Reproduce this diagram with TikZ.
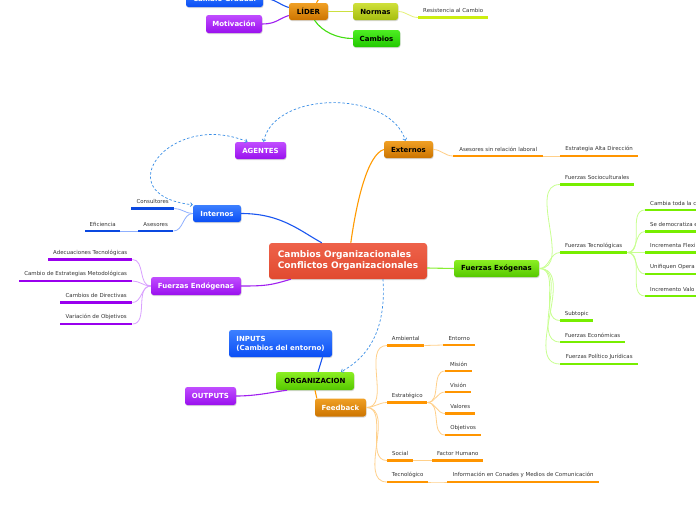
\documentclass[tikz,border=0pt]{standalone}
\usepackage{fontspec}
\setmainfont{DejaVu Sans}
\usetikzlibrary{shadows,arrows.meta}
\definecolor{blueT}{HTML}{3D80FF}
\definecolor{blueB}{HTML}{0A4EF5}
\definecolor{purT}{HTML}{C04DFF}
\definecolor{purB}{HTML}{9A10EE}
\definecolor{orT}{HTML}{F0A024}
\definecolor{orB}{HTML}{CC7400}
\definecolor{grT}{HTML}{8BEE22}
\definecolor{grB}{HTML}{55C800}
\definecolor{grnT}{HTML}{4DEE22}
\definecolor{grnB}{HTML}{22C800}
\definecolor{olT}{HTML}{CFE03A}
\definecolor{olB}{HTML}{A6BE10}
\definecolor{redT}{HTML}{EE624A}
\definecolor{redB}{HTML}{E14A30}
\definecolor{lineBlue}{HTML}{1A56F0}
\definecolor{lineOr}{HTML}{FF9A00}
\definecolor{linePur}{HTML}{A020F0}
\definecolor{lineGr}{HTML}{88EE33}
\definecolor{lineGrn}{HTML}{44DD11}
\definecolor{lineOl}{HTML}{CCE040}
\definecolor{ulBlue}{HTML}{0A48E0}
\definecolor{ulPur}{HTML}{9900EE}
\definecolor{ulOr}{HTML}{FF9500}
\definecolor{ulGr}{HTML}{77EE00}
\definecolor{ulYel}{HTML}{CCEE11}
\definecolor{lBlue}{HTML}{8FB0FF}
\definecolor{lPur}{HTML}{D9A0FF}
\definecolor{lOr}{HTML}{FFD08A}
\definecolor{lGr}{HTML}{C8FF90}
\definecolor{lYel}{HTML}{E6F27A}
\definecolor{dashBlue}{HTML}{3A8EE6}
\definecolor{txt}{HTML}{333333}
\tikzset{
  topic/.style={rounded corners=2.5pt, inner sep=0pt, minimum height=17pt,
    font=\fontsize{7}{8.5}\selectfont\bfseries,
    drop shadow={shadow xshift=0.5pt, shadow yshift=-1pt, opacity=0.3}},
  tblue/.style={topic, top color=blueT, bottom color=blueB, text=white},
  tpur/.style={topic, top color=purT, bottom color=purB, text=white},
  torange/.style={topic, top color=orT, bottom color=orB},
  tgreen/.style={topic, top color=grT, bottom color=grB, text=black},
  tgreenb/.style={topic, top color=grnT, bottom color=grnB, text=black},
  tolive/.style={topic, top color=olT, bottom color=olB, text=black},
  tred/.style={topic, top color=redT, bottom color=redB, text=white},
  sub/.style={inner sep=0pt, minimum height=13pt, anchor=south west,
    font=\fontsize{5.45}{6.5}\selectfont, text=txt},
  uline/.style={line width=2.2pt},
  conn/.style={line width=1.1pt},
  subconn/.style={line width=0.8pt},
  rel/.style={dash pattern=on 2.5pt off 2pt, line width=0.7pt, draw=dashBlue},
  relboth/.style={rel, {Straight Barb[length=2pt,width=4pt]}-{Straight Barb[length=2pt,width=4pt]}},
  relend/.style={rel, -{Straight Barb[length=2pt,width=4pt]}},
}
\newcommand{\mmsub}[6]{%
  \node[sub, minimum width=#4pt] (#1) at (#2,#3) {#6};
  \draw[uline, #5] (#1.south west) -- (#1.south east);}
\begin{document}
\begin{tikzpicture}[x=1pt,y=-1pt]
\useasboundingbox (0,0) rectangle (696,520);
\clip (0,0) rectangle (696,520);
\fill[white] (0,0) rectangle (696,520);

% ---------- top (LIDER) ----------
\node[tblue, minimum width=77pt] (cg) at (224.5,-1.5) {Cambio Gradual};
\node[torange, text=black, minimum width=39pt] (lider) at (308.5,11.5) {LÍDER};
\node[tpur, minimum width=56pt, minimum height=18pt] (mot) at (234,24) {Motivación};
\node[tolive, minimum width=45pt] (normas) at (375.5,11.5) {Normas};
\node[tgreenb, minimum width=47pt] (cambios) at (376.5,38.5) {Cambios};
\coordinate (liderup) at (323,-8);
\mmsub{resis}{418}{17.5}{70}{ulYel}{Resistencia al Cambio}

\draw[conn, lineBlue] (cg.east) .. controls +(12,0) and +(-10,-3) .. ([yshift=4pt]lider.west);
\draw[conn, linePur] (mot.east) .. controls +(14,0) and +(-10,3) .. ([yshift=-4pt]lider.west);
\draw[conn, lineOr] ([xshift=8pt]lider.north) -- (liderup);
\draw[conn, lineOl] (lider.east) -- (normas.west);
\draw[conn, lineGrn] ([xshift=6pt]lider.south) .. controls +(8,12) and +(-15,0) .. (cambios.west);
\draw[subconn, lYel] (normas.east) to[out=0,in=180] (resis.south west);

% ---------- central ----------
\node[tred, rounded corners=3pt, minimum width=158pt, minimum height=36pt, align=left,
  font=\fontsize{9}{11}\selectfont\bfseries] (central) at (348,261)
  {Cambios Organizacionales\\Conflictos Organizacionales};

% ---------- AGENTES / Internos / Externos ----------
\node[tpur, minimum width=51pt] (agentes) at (260.5,150.5) {AGENTES};
\node[torange, text=black, minimum width=49pt] (ext) at (408.5,149.5) {Externos};
\node[tblue, minimum width=48pt] (int) at (217,213.5) {Internos};

\mmsub{cons}{131}{208.5}{43}{ulBlue}{Consultores}
\mmsub{ases}{138}{231}{35}{ulBlue}{Asesores}
\mmsub{efic}{85}{231}{35}{ulBlue}{Eficiencia}
\draw[subconn, lBlue] (int.west) to[out=180,in=0] (cons.south east);
\draw[subconn, lBlue] (int.west) to[out=180,in=0] (ases.south east);
\draw[subconn, lBlue] (ases.south west) -- (efic.south east);

\mmsub{asesr}{453}{156}{90}{ulOr}{Asesores sin relación laboral}
\mmsub{estr}{560}{156}{78}{ulOr}{Estrategia Alta Dirección}
\draw[subconn, lOr] (ext.east) to[out=0,in=180] (asesr.south west);
\draw[subconn, lOr] (asesr.south east) -- (estr.south west);

\draw[conn, lineBlue] (int.east) .. controls +(40,0) and +(-22,-12) .. ([xshift=53pt]central.north west);
\draw[conn, lineOr] ([xshift=82pt]central.north west) .. controls +(6,-43) and +(-16,5) .. (ext.west);

\draw[relboth] ([xshift=3pt]agentes.north) .. controls (275,90) and (390,90) .. ([xshift=-3pt]ext.north);
\draw[relboth] ([xshift=-13pt]agentes.north) .. controls (170,110) and (105,195) .. (int.north west);

% ---------- Fuerzas Endogenas ----------
\node[tpur, minimum width=90pt, minimum height=18pt] (endo) at (196,286) {Fuerzas Endógenas};
\draw[conn, linePur] ([xshift=22pt]central.south west) .. controls +(-20,6) and +(25,0) .. (endo.east);
\mmsub{adec}{48}{259.5}{84}{ulPur}{Adecuaciones Tecnológicas}
\mmsub{camest}{19}{281}{113}{ulPur}{Cambio de Estrategias Metodológicas}
\mmsub{camdir}{60}{302.5}{72}{ulPur}{Cambios de Directivas}
\mmsub{varobj}{60}{324}{72}{ulPur}{Variación de Objetivos}
\foreach \n in {adec,camest,camdir,varobj}
  \draw[subconn, lPur] (endo.west) to[out=180,in=0] (\n.south east);

% ---------- Fuerzas Exogenas ----------
\node[tgreen, minimum width=85pt] (exo) at (496.5,268.5) {Fuerzas Exógenas};
\draw[conn, lineGr] ([yshift=-7pt]central.east) -- (exo.west);
\mmsub{soc}{560}{184.5}{74}{ulGr}{Fuerzas Socioculturales}
\mmsub{tec}{560}{252.5}{67}{ulGr}{Fuerzas Tecnológicas}
\mmsub{subt}{560}{320.5}{33}{ulGr}{Subtopic}
\mmsub{eco}{560}{342}{65}{ulGr}{Fuerzas Económicas}
\mmsub{pol}{560}{364}{78}{ulGr}{Fuerzas Político Jurídicas}
\foreach \n in {soc,tec,subt,eco,pol}
  \draw[subconn, lGr] (exo.east) to[out=0,in=180] (\n.south west);

\node[sub, inner xsep=5pt] (t1) at (645,210) {Cambia toda la c};
\node[sub, inner xsep=5pt] (t2) at (645,231.5) {Se democratiza e};
\node[sub, inner xsep=5pt] (t3) at (645,252.5) {Incrementa Flexi};
\node[sub, inner xsep=5pt] (t4) at (645,274) {Unifiquen Opera};
\node[sub, inner xsep=5pt] (t5) at (645,296) {Incremento Valo};
\foreach \n in {t1,t2,t3,t4,t5}{
  \draw[uline, ulGr] (\n.south west) -- ++(70,0);
  \draw[subconn, lGr] (tec.south east) to[out=0,in=180] (\n.south west);
}

% ---------- ORGANIZACION ----------
\node[tblue, minimum width=103pt, minimum height=27pt, align=left,
  font=\fontsize{7}{9}\selectfont\bfseries] (inp) at (280.5,343.5) {INPUTS\\(Cambios del entorno)};
\node[tgreen, minimum width=78pt, minimum height=18pt] (org) at (315,381) {ORGANIZACION};
\node[tpur, minimum width=51pt, minimum height=18pt] (outp) at (210.5,396) {OUTPUTS};
\node[torange, text=white, minimum width=51pt, minimum height=18pt] (fb) at (340.5,407.5) {Feedback};

\draw[conn, lineBlue] ([xshift=42pt]inp.south) -- ([xshift=3pt]org.north);
\draw[conn, linePur] (outp.east) .. controls +(20,0) and +(-15,2) .. ([xshift=-28pt]org.south);
\draw[conn, lineOr] (org.south) -- ([xshift=2pt]fb.north west);
\draw[relend] ([xshift=35pt]central.south) .. controls (386,325) and (372,355) .. ([xshift=26pt]org.north);

\mmsub{amb}{387}{345.5}{37}{ulOr}{Ambiental}
\mmsub{est}{387}{402.5}{40}{ulOr}{Estratégico}
\mmsub{socl}{387}{460.5}{26}{ulOr}{Social}
\mmsub{tecno}{387}{482}{41}{ulOr}{Tecnológico}
\foreach \n in {amb,est,socl,tecno}
  \draw[subconn, lOr] (fb.east) to[out=0,in=180] (\n.south west);

\mmsub{ent}{443}{345}{32}{ulOr}{Entorno}
\draw[subconn, lOr] (amb.south east) -- (ent.south west);
\mmsub{mis}{445}{371}{27}{ulOr}{Misión}
\mmsub{vis}{445}{392}{26}{ulOr}{Visión}
\mmsub{val}{445}{413.5}{30}{ulOr}{Valores}
\mmsub{obj}{445}{435}{36}{ulOr}{Objetivos}
\foreach \n in {mis,vis,val,obj}
  \draw[subconn, lOr] (est.south east) to[out=0,in=180] (\n.south west);
\mmsub{fh}{432}{460.5}{51}{ulOr}{Factor Humano}
\draw[subconn, lOr] (socl.south east) -- (fh.south west);
\mmsub{info}{447}{482}{152}{ulOr}{Información en Conades y Medios de Comunicación}
\draw[subconn, lOr] (tecno.south east) to[out=0,in=180] (info.south west);
\end{tikzpicture}
\end{document}
